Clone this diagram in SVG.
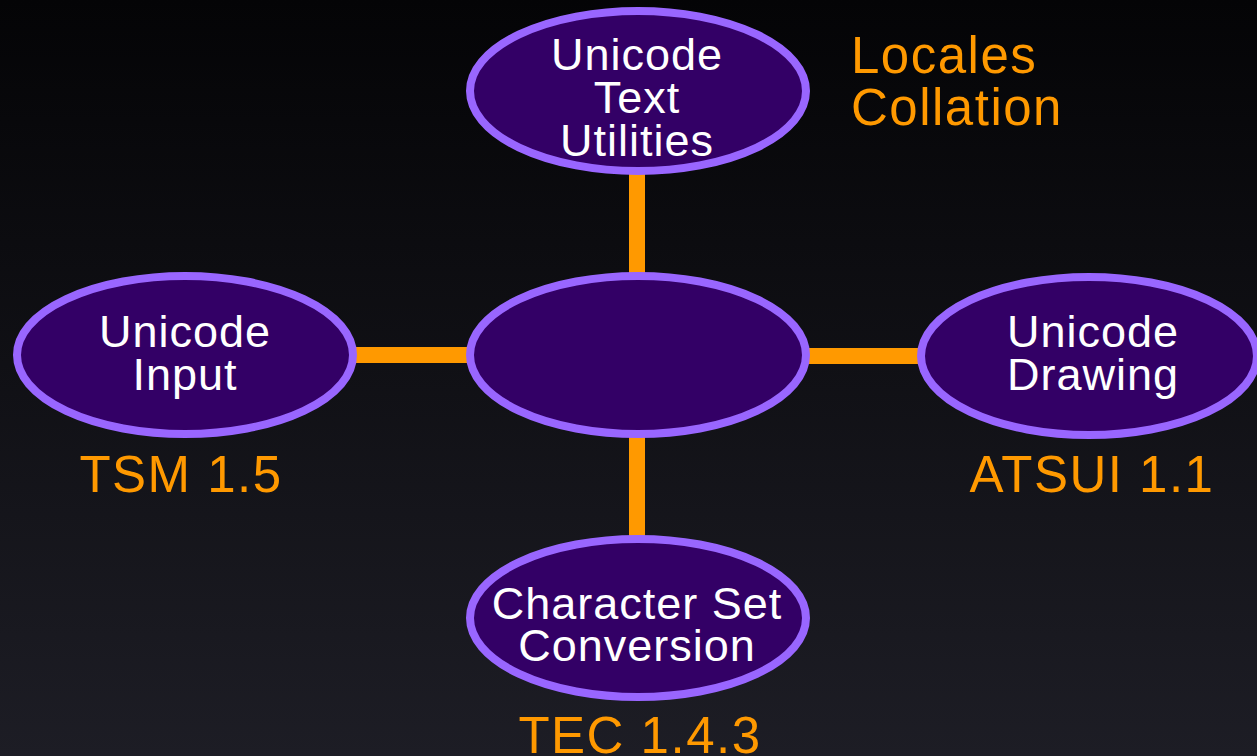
<svg xmlns="http://www.w3.org/2000/svg" width="1257" height="756" viewBox="0 0 1257 756">
<defs>
<linearGradient id="bg" x1="0" y1="0" x2="0" y2="1">
<stop offset="0" stop-color="#040406"/>
<stop offset="1" stop-color="#1d1d25"/>
</linearGradient>
<style>
.node ellipse{fill:#330066;stroke:#9966ff;stroke-width:8}
.w{fill:#ffffff;font-family:"Liberation Sans",Arial,sans-serif;font-size:45px;letter-spacing:1px;text-anchor:middle}
.o{fill:#ff9900;font-family:"Liberation Sans",Arial,sans-serif;font-size:51px;letter-spacing:1.5px}
.c{stroke:#ff9900;stroke-width:16;fill:none}
</style>
</defs>
<rect width="1257" height="756" fill="url(#bg)"/>
<g id="connectors">
<line class="c" x1="637" y1="170" x2="637" y2="278"/>
<line class="c" x1="637" y1="432" x2="637" y2="540"/>
<line class="c" x1="352" y1="355" x2="472" y2="355"/>
<line class="c" x1="804" y1="356" x2="926" y2="356"/>
</g>
<g id="center" class="node">
<ellipse cx="638" cy="355" rx="168" ry="79"/>
</g>
<g id="top" class="node">
<ellipse cx="638" cy="91" rx="168" ry="80"/>
<text class="w" x="637" y="70">Unicode</text>
<text class="w" x="637" y="113">Text</text>
<text class="w" x="637" y="156">Utilities</text>
</g>
<g id="left" class="node">
<ellipse cx="185" cy="355" rx="168" ry="79"/>
<text class="w" x="185" y="347">Unicode</text>
<text class="w" x="185" y="390">Input</text>
</g>
<g id="right" class="node">
<ellipse cx="1089" cy="356" rx="168" ry="79"/>
<text class="w" x="1093" y="347">Unicode</text>
<text class="w" x="1093" y="390">Drawing</text>
</g>
<g id="bottom" class="node">
<ellipse cx="638" cy="618" rx="168" ry="79"/>
<text class="w" x="637" y="619">Character Set</text>
<text class="w" x="637" y="661">Conversion</text>
</g>
<g id="labels">
<text class="o" x="851" y="73">Locales</text>
<text class="o" x="851" y="125">Collation</text>
<text class="o" x="181" y="492" text-anchor="middle">TSM 1.5</text>
<text class="o" x="1092" y="492" text-anchor="middle">ATSUI 1.1</text>
<text class="o" x="640" y="753" text-anchor="middle">TEC 1.4.3</text>
</g>
</svg>
